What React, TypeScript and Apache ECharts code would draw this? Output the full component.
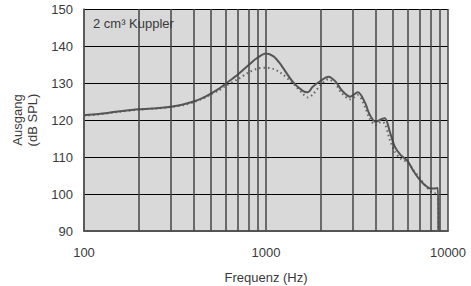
import React, { useEffect, useRef } from "react";
import * as echarts from "echarts";

const freqs = [100, 120, 150, 200, 250, 300, 350, 400, 450, 500, 550, 600, 700, 800, 900, 1000, 1100, 1200, 1400, 1600, 1700, 1800, 2000, 2200, 2400, 2600, 2900, 3200, 3500, 3700, 4000, 4300, 4500, 4800, 5100, 5500, 6000, 6500, 7000, 7500, 8000, 8500, 8800, 8850];
const solidValues = [121.3, 121.6, 122.2, 122.9, 123.2, 123.6, 124.2, 125.0, 126.0, 127.2, 128.4, 129.8, 132.3, 134.8, 136.9, 138.0, 137.2, 135.1, 130.4, 127.8, 127.5, 128.9, 130.6, 131.7, 130.5, 128.1, 126.3, 127.5, 124.7, 121.6, 119.5, 120.2, 120.5, 116.7, 112.8, 110.5, 108.9, 106.0, 103.8, 102.3, 101.5, 101.5, 101.6, 90];
const dottedValues = [121.2, 121.5, 122.1, 122.8, 123.1, 123.5, 124.0, 124.8, 125.8, 127.0, 128.0, 129.2, 131.0, 132.8, 133.9, 134.1, 133.8, 132.8, 130.0, 127.0, 126.1, 126.8, 129.5, 131.0, 129.8, 127.3, 125.6, 126.7, 123.5, 120.5, 118.6, 119.5, 119.0, 114.5, 111.5, 109.5, 108.5, 106.3, 104.3, 102.3, 100.8, 100.2, 100.2, 90];
const minorGridFreqs = [200, 300, 400, 500, 600, 700, 800, 900, 2000, 3000, 4000, 5000, 6000, 7000, 8000, 9000];
const annotation = "2 cm³ Kuppler";
const xAxisName = "Frequenz (Hz)";
const yAxisName = "Ausgang\n(dB SPL)";

export default function App() {
  const ref = useRef<HTMLDivElement>(null);
  useEffect(() => {
    if (!ref.current) return;
    const chart = echarts.init(ref.current, null, { renderer: "svg" });
    const font = "'Liberation Sans', Arial, sans-serif";
    chart.setOption({
      animation: false,
      backgroundColor: "#ffffff",
      textStyle: { fontFamily: font },
      grid: { left: 84, right: 23, top: 9, bottom: 55, show: true, backgroundColor: "#d9d9d9", borderWidth: 0, outerBoundsMode: "none", containLabel: false },
      xAxis: {
        type: "log",
        logBase: 10,
        min: 100,
        max: 10000,
        name: xAxisName,
        nameLocation: "middle",
        nameGap: 40,
        nameTextStyle: { fontSize: 13, color: "#3a3a3a", fontFamily: font },
        axisLine: { show: true, lineStyle: { color: "#555", width: 2 } },
        axisTick: { show: false },
        axisLabel: { fontSize: 13, color: "#3a3a3a", margin: 15, fontFamily: font, formatter: (v: number) => String(v) },
        splitLine: { show: true, lineStyle: { color: "#444", width: 1.5 } },
      },
      yAxis: {
        type: "value",
        min: 90,
        max: 150,
        interval: 10,
        name: yAxisName,
        nameLocation: "middle",
        nameRotate: 90,
        nameGap: 40,
        nameTextStyle: { fontSize: 13, color: "#3a3a3a", fontFamily: font, lineHeight: 15 },
        axisLine: { show: true, lineStyle: { color: "#555", width: 1.5 } },
        axisTick: { show: false },
        axisLabel: { fontSize: 13, color: "#3a3a3a", margin: 11, fontFamily: font },
        splitLine: { show: true, lineStyle: { color: "#000", width: 1 } },
      },
      graphic: [
        {
          type: "text",
          left: 93,
          top: 17,
          style: { text: annotation, fontSize: 13, fill: "#3a3a3a", fontFamily: font },
          z: 10,
        },
      ],
      series: [
        {
          type: "line",
          data: [[100, 90]],
          symbol: "none",
          lineStyle: { width: 0 },
          silent: true,
          z: 1,
          markLine: {
            silent: true,
            symbol: "none",
            label: { show: false },
            lineStyle: { color: "#444", width: 1.5, type: "solid" },
            data: minorGridFreqs.map((f) => ({ xAxis: f })),
          },
        },
        {
          type: "line",
          data: freqs.map((f, i) => [f, dottedValues[i]]),
          symbol: "none",
          smooth: 0.3,
          lineStyle: { color: "#666", width: 2, type: [1.5, 3] },
          z: 3,
        },
        {
          type: "line",
          data: freqs.map((f, i) => [f, solidValues[i]]),
          symbol: "none",
          smooth: 0.3,
          lineStyle: { color: "#555", width: 2 },
          z: 4,
        },
      ],
    });
    return () => chart.dispose();
  }, []);
  return <div ref={ref} style={{ width: 471, height: 286, position: "absolute", left: 0, top: 0 }} />;
}
